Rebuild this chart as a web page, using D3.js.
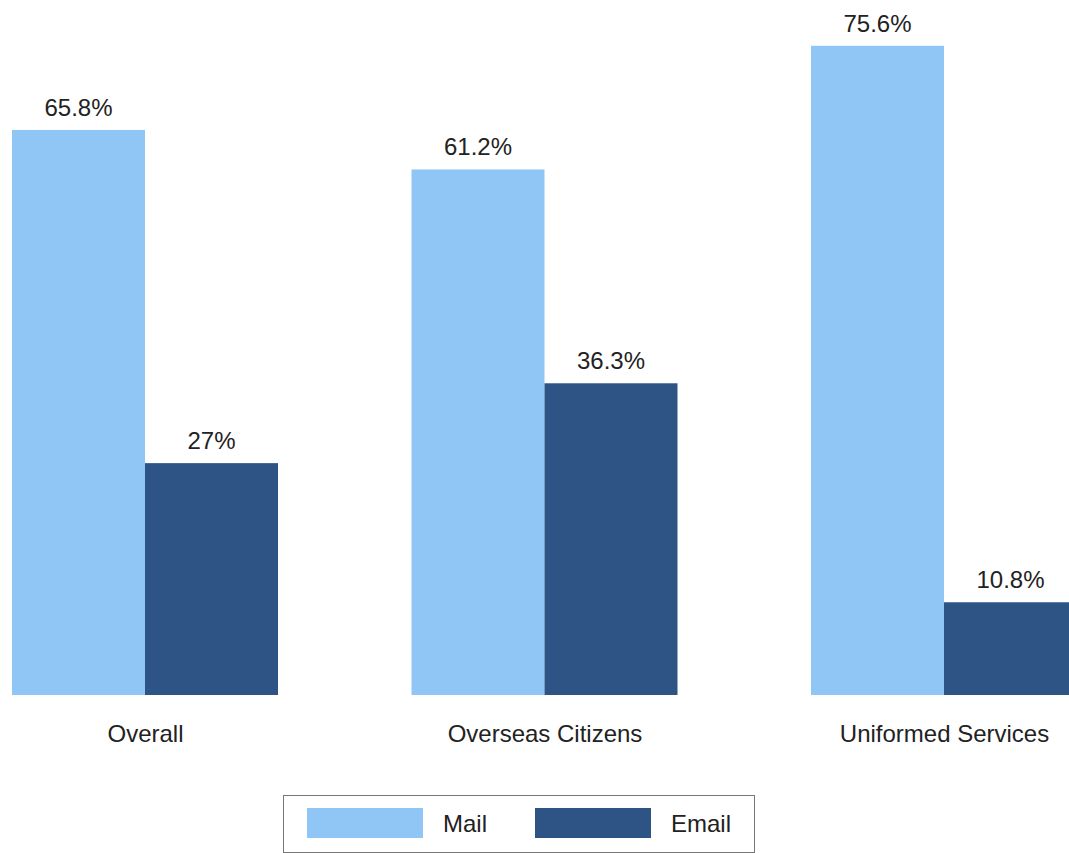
<!DOCTYPE html>
<html>
<head>
<meta charset="utf-8">
<script src="https://cdn.jsdelivr.net/npm/d3@7"></script>
<style>
  html, body { margin: 0; padding: 0; background: #fff; }
  svg { display: block; font-family: "Liberation Sans", Arial, sans-serif; }
</style>
</head>
<body>
<svg id="chart" width="1069" height="853"></svg>
<script>
// Ballot return method by voter group
const categories = ["Overall", "Overseas Citizens", "Uniformed Services"];
const seriesNames = ["Mail", "Email"];
const mailValues = [65.8, 61.2, 75.6];
const emailValues = [27, 36.3, 10.8];
const valueLabels = [["65.8%", "27%"], ["61.2%", "36.3%"], ["75.6%", "10.8%"]];
const colors = ["#8fc6f6", "#2e5486"];

const svg = d3.select("#chart");
const fontSize = 24;

const x0 = d3.scalePoint().domain(categories).range([145, 944]);
const barW = 133;
const x1 = d3.scaleBand().domain(seriesNames).range([-barW, barW]).padding(0);
const y = d3.scaleLinear().domain([0, 80]).range([695, 8]);

const rows = categories.map((c, i) => ({
  cat: c,
  vals: [
    { key: "Mail", v: mailValues[i], label: valueLabels[i][0] },
    { key: "Email", v: emailValues[i], label: valueLabels[i][1] }
  ]
}));

const g = svg.selectAll("g.grp").data(rows).join("g")
  .attr("class", "grp")
  .attr("transform", d => `translate(${x0(d.cat)},0)`);

g.selectAll("rect").data(d => d.vals).join("rect")
  .attr("x", d => x1(d.key))
  .attr("width", x1.bandwidth())
  .attr("y", d => y(d.v))
  .attr("height", d => y(0) - y(d.v))
  .attr("fill", (d, i) => colors[i]);

g.selectAll("text.val").data(d => d.vals).join("text")
  .attr("class", "val")
  .attr("x", d => x1(d.key) + x1.bandwidth() / 2)
  .attr("y", d => y(d.v) - 14)
  .attr("text-anchor", "middle")
  .attr("font-size", fontSize)
  .attr("fill", "#222")
  .text(d => d.label);

// Category axis labels (no axis line)
const xAxis = d3.axisBottom(x0).tickSize(0).tickPadding(0);
const ax = svg.append("g").attr("transform", "translate(0,742)").call(xAxis);
ax.select(".domain").remove();
ax.selectAll("text")
  .attr("dy", 0)
  .attr("font-size", fontSize)
  .attr("font-family", "Liberation Sans, Arial, sans-serif")
  .attr("fill", "#222");

// Legend
const legend = svg.append("g").attr("transform", "translate(283,795)");
legend.append("rect")
  .attr("x", 0.5).attr("y", 0.5)
  .attr("width", 471).attr("height", 57)
  .attr("fill", "#fff").attr("stroke", "#777").attr("stroke-width", 1);
const items = legend.selectAll("g.item").data(seriesNames).join("g")
  .attr("class", "item")
  .attr("transform", (d, i) => `translate(${24 + i * 228},13)`);
items.append("rect")
  .attr("width", 116).attr("height", 30)
  .attr("fill", (d, i) => colors[i]);
items.append("text")
  .attr("x", 136).attr("y", 24)
  .attr("font-size", fontSize)
  .attr("fill", "#222")
  .text(d => d);
</script>
</body>
</html>
